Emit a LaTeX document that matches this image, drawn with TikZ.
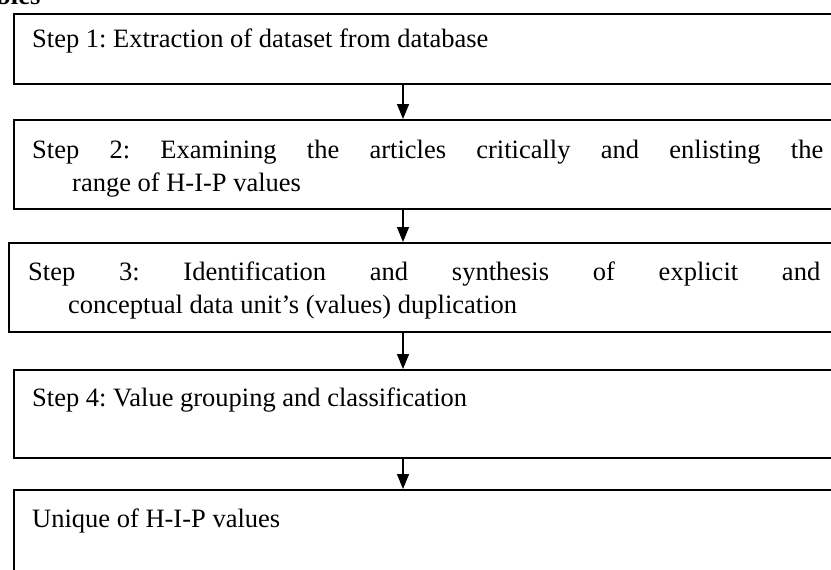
\documentclass[tikz,border=0pt]{standalone}
\usepackage{fontspec}
\setmainfont{Liberation Serif}
\usetikzlibrary{arrows.meta}
\begin{document}
\frenchspacing
\begin{tikzpicture}[x=1pt,y=-1pt,
  stepbox/.style={draw,line width=1.6pt,rectangle,anchor=north west,inner sep=0pt},
  steptext/.style={anchor=base west,inner sep=0pt,font=\fontsize{26.5}{33}\selectfont\frenchspacing},
  flow/.style={line width=1.3pt,-{Triangle[length=15pt,width=12pt]}}]
\useasboundingbox (0,0) rectangle (831,570);
\clip (0,0) rectangle (831,570);
% boxes
\node[stepbox,minimum width=837pt,minimum height=70pt] (b1) at (13,13) {};
\node[stepbox,minimum width=837pt,minimum height=89pt] (b2) at (13,119) {};
\node[stepbox,minimum width=842pt,minimum height=89pt] (b3) at (8,242) {};
\node[stepbox,minimum width=837pt,minimum height=88pt] (b4) at (13,369) {};
\node[stepbox,minimum width=837pt,minimum height=120pt] (b5) at (13,489) {};
% texts
\node[steptext,font=\bfseries\fontsize{26.5}{33}\selectfont] (hd) at (-4,5) {bles};
\node[steptext] (t1) at (32,47) {Step 1: Extraction of dataset from database};
\node[steptext] (t2) at (32,158) {\parbox[t]{791pt}{\frenchspacing\hangindent=40pt\hangafter=1 Step 2: Examining the articles critically and enlisting the\linebreak range of H-I-P values}};
\node[steptext] (t3) at (28,280) {\parbox[t]{792pt}{\frenchspacing\hangindent=40pt\hangafter=1 Step 3: Identification and synthesis of explicit and\linebreak conceptual data unit’s (values) duplication}};
\node[steptext] (t4) at (32,406) {Step 4: Value grouping and classification};
\node[steptext] (t5) at (32,527) {Unique of H-I-P values};
% connectors
\coordinate (ax) at (403,0);
\draw[flow] (b1.south -| ax) -- (b2.north -| ax);
\draw[flow] (b2.south -| ax) -- (b3.north -| ax);
\draw[flow] (b3.south -| ax) -- (b4.north -| ax);
\draw[flow] (b4.south -| ax) -- (b5.north -| ax);
\end{tikzpicture}
\end{document}
